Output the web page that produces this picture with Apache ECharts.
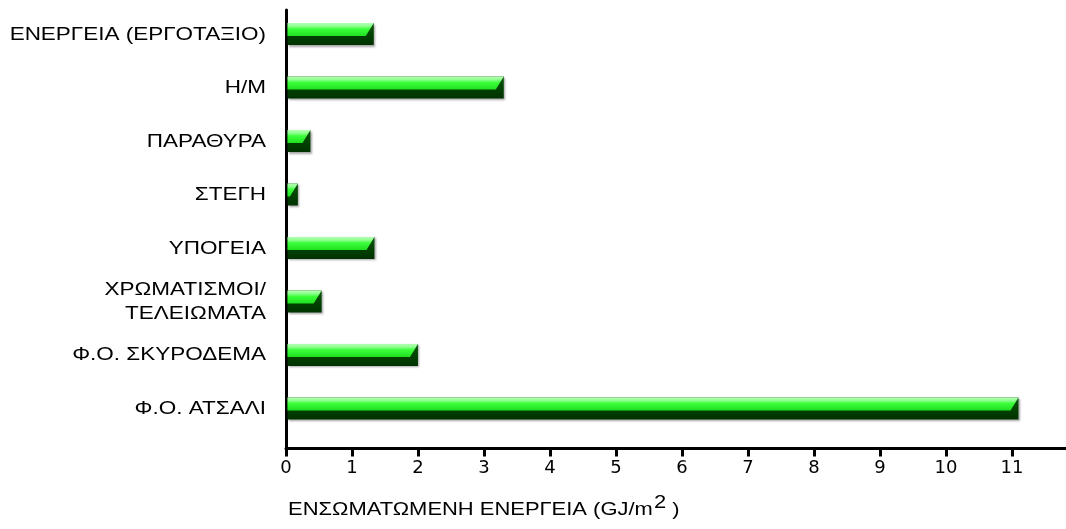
<!DOCTYPE html>
<html>
<head>
<meta charset="utf-8">
<script src="https://cdn.jsdelivr.net/npm/echarts@6/dist/echarts.min.js"></script>
<style>
  html, body { margin: 0; padding: 0; background: #ffffff; }
  #chart { width: 1066px; height: 529px; }
</style>
</head>
<body>
<div id="chart"></div>
<script>
// Embodied energy by building element (GJ/m2), top to bottom
const categories = [
  'ΕΝΕΡΓΕΙΑ (ΕΡΓΟΤΑΞΙΟ)',
  'Η/Μ',
  'ΠΑΡΑΘΥΡΑ',
  'ΣΤΕΓΗ',
  'ΥΠΟΓΕΙΑ',
  'ΧΡΩΜΑΤΙΣΜΟΙ/\nΤΕΛΕΙΩΜΑΤΑ',
  'Φ.Ο. ΣΚΥΡΟΔΕΜΑ',
  'Φ.Ο. ΑΤΣΑΛΙ'
];
const energy = [1.33, 3.3, 0.37, 0.18, 1.34, 0.54, 2.0, 11.1];
const xTicks = [0, 1, 2, 3, 4, 5, 6, 7, 8, 9, 10, 11];
const axisTitle = 'ΕΝΣΩΜΑΤΩΜΕΝΗ ΕΝΕΡΓΕΙΑ (GJ/m';

const TEXT_FONT = '"Liberation Sans", Arial, sans-serif';
const NUM_FONT = '"DejaVu Sans", sans-serif';
const TEXT_SIZE = 18.3;
const WIDE = 1.23;   // wide, Helvetica-style lettering
const chart = echarts.init(document.getElementById('chart'), null, { renderer: 'canvas' });

// Bevelled "3D" bar: bright top face with slanted right end over a dark front face
function renderBar(params, api) {
  const v = api.value(0);
  const idx = api.value(1);
  const start = api.coord([0, idx]);
  const end = api.coord([v, idx]);
  const h = 22, lightH = 13, bevel = 8;
  const top = start[1] - h / 2;
  const mid = top + lightH;
  const x0 = start[0] + 1.5;
  const x1 = end[0];
  const b = Math.min(bevel, Math.max(0, x1 - x0));
  return {
    type: 'group',
    children: [
      {
        type: 'rect',
        shape: { x: x0, y: top, width: x1 - x0, height: h },
        style: {
          fill: new echarts.graphic.LinearGradient(0, 0, 0, 1, [
            { offset: 0, color: '#0a560a' },
            { offset: 0.6, color: '#014001' },
            { offset: 1, color: '#013201' }
          ]),
          shadowColor: 'rgba(0,0,0,0.35)',
          shadowBlur: 2,
          shadowOffsetX: 1.5,
          shadowOffsetY: 1.5
        }
      },
      {
        type: 'polygon',
        shape: { points: [[x0, top], [x1, top], [x1 - b, mid], [x0, mid]] },
        style: {
          fill: new echarts.graphic.LinearGradient(0, 0, 0, 1, [
            { offset: 0, color: '#b4ffb4' },
            { offset: 0.25, color: '#8dff8d' },
            { offset: 0.45, color: '#3cff3c' },
            { offset: 1, color: '#1fe01f' }
          ])
        }
      }
    ]
  };
}

// Category names to the left of the value axis, set in wide lettering
function renderCategoryLabel(params, api) {
  const idx = api.value(1);
  const p = api.coord([0, idx]);
  return {
    type: 'text',
    x: p[0] - 20,
    y: p[1] + 0.5,
    scaleX: WIDE,
    style: {
      text: categories[idx],
      x: 0,
      y: 0,
      align: 'right',
      verticalAlign: 'middle',
      fontFamily: TEXT_FONT,
      fontSize: TEXT_SIZE,
      lineHeight: 24,
      fill: '#000'
    }
  };
}

chart.setOption({
  animation: false,
  backgroundColor: '#ffffff',
  grid: { left: 286, right: 0, top: 10, bottom: 80.5, containLabel: false },
  graphic: [{
    type: 'text',
    left: 288,
    top: 494,
    scaleX: 1.2,
    style: {
      text: '{a|' + axisTitle + '}{sup|2}{a| )}',
      rich: {
        a: { fontFamily: TEXT_FONT, fontSize: TEXT_SIZE, fill: '#000', verticalAlign: 'bottom', lineHeight: 24 },
        sup: { fontFamily: TEXT_FONT, fontSize: TEXT_SIZE, fill: '#000', verticalAlign: 'bottom', lineHeight: 24, padding: [0, 0, 7, 1] }
      }
    }
  }],
  xAxis: {
    type: 'value',
    min: 0,
    max: 11.82,
    interval: 1,
    axisLine: { show: true, onZero: false, lineStyle: { color: '#000', width: 3 } },
    axisTick: { show: true, length: 8, customValues: xTicks, lineStyle: { color: '#000', width: 3 } },
    axisLabel: {
      customValues: xTicks,
      margin: 11,
      fontFamily: NUM_FONT,
      fontSize: 18,
      color: '#000'
    },
    splitLine: { show: false }
  },
  yAxis: {
    type: 'value',
    inverse: true,
    min: -0.45,
    max: 7.75,
    axisLine: { show: true, onZero: false, lineStyle: { color: '#000', width: 3 } },
    axisTick: { show: false },
    axisLabel: { show: false },
    splitLine: { show: false }
  },
  series: [
    {
      type: 'custom',
      renderItem: renderBar,
      encode: { x: 0, y: 1 },
      data: energy.map((v, i) => [v, i])
    },
    {
      type: 'custom',
      renderItem: renderCategoryLabel,
      clip: false,
      silent: true,
      encode: { x: 0, y: 1 },
      data: categories.map((c, i) => [0, i])
    }
  ]
});
</script>
</body>
</html>
